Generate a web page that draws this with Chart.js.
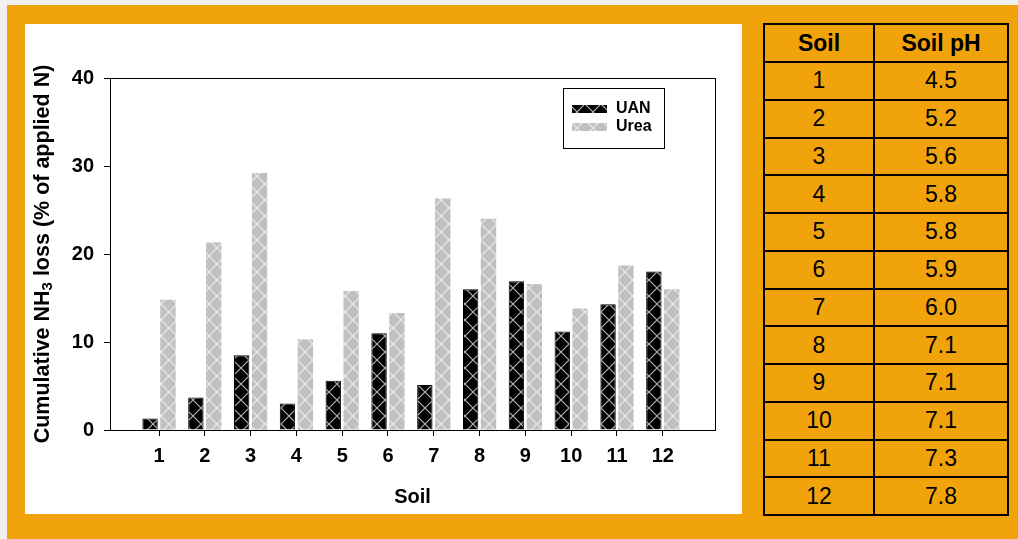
<!DOCTYPE html>
<html>
<head>
<meta charset="utf-8">
<script src="https://cdn.jsdelivr.net/npm/chart.js@4.4.1/dist/chart.umd.min.js"></script>
<style>
  html, body { margin:0; padding:0; }
  body { width:1018px; height:539px; background:#f0f0f0; position:relative; overflow:hidden; font-family:"Liberation Sans", Arial, sans-serif; }
  #frame { position:absolute; left:7px; top:5px; right:0; bottom:0; background:#f0a30b; }
  #panel { position:absolute; left:25px; top:24px; width:717px; height:490px; background:#fff; }
  #ph { position:absolute; left:763px; top:23px; width:246px; border-collapse:collapse; }
  #ph th, #ph td { border:2px solid #000; text-align:center; padding:0; color:#000; }
  #ph th { font-weight:bold; font-size:23px; height:36px; }
  #ph td { font-size:23px; height:35.75px; }
  #ph th:first-child { width:108px; }
</style>
</head>
<body>
<div id="frame"></div>
<div id="panel"><canvas id="c" width="717" height="490"></canvas></div>
<table id="ph"><thead><tr><th>Soil</th><th>Soil pH</th></tr></thead><tbody id="phBody"></tbody></table>
<script>
// data
const soils  = [1, 2, 3, 4, 5, 6, 7, 8, 9, 10, 11, 12];
const uan    = [1.3, 3.7, 8.5, 3.0, 5.6, 11.0, 5.1, 16.0, 16.9, 11.2, 14.3, 18.0];
const urea   = [14.8, 21.3, 29.2, 10.3, 15.8, 13.3, 26.3, 24.0, 16.6, 13.8, 18.7, 16.0];
const soilPH = [4.5, 5.2, 5.6, 5.8, 5.8, 5.9, 6.0, 7.1, 7.1, 7.1, 7.3, 7.8];
const yTicks = [0, 10, 20, 30, 40];

// table
const tb = document.getElementById('phBody');
soils.forEach((s, i) => {
  const tr = document.createElement('tr');
  tr.innerHTML = `<td>${s}</td><td>${soilPH[i].toFixed(1)}</td>`;
  tb.appendChild(tr);
});

// cross hatch fills
function hatch(bg, line) {
  const c = document.createElement('canvas');
  c.width = 16; c.height = 16;
  const g = c.getContext('2d');
  g.fillStyle = bg; g.fillRect(0, 0, 16, 16);
  g.strokeStyle = line; g.lineWidth = 1.2;
  g.beginPath();
  g.moveTo(0, 0); g.lineTo(16, 16);
  g.moveTo(16, 0); g.lineTo(0, 16);
  g.stroke();
  return g.createPattern(c, 'repeat');
}
const FONT = '"Liberation Sans", Arial, sans-serif';

const frameBox = {
  id: 'frameBox',
  afterDraw(chart) {
    const {ctx, chartArea: a} = chart;
    ctx.save();
    ctx.strokeStyle = '#000'; ctx.lineWidth = 1;
    ctx.strokeRect(a.left + 0.5, a.top + 0.5, a.right - a.left, a.bottom - a.top);
    ctx.restore();
  }
};

const yTitle = {
  id: 'yTitle',
  afterDraw(chart) {
    const {ctx, chartArea: a} = chart;
    const parts = [['Cumulative NH', 'bold 21.5px ' + FONT, 0], ['3', 'bold 15px ' + FONT, 5], [' loss (% of applied N)', 'bold 21.5px ' + FONT, 0]];
    ctx.save();
    let w = 0;
    parts.forEach(p => { ctx.font = p[1]; w += ctx.measureText(p[0]).width; });
    ctx.translate(18, (a.top + a.bottom) / 2);
    ctx.rotate(-Math.PI / 2);
    ctx.fillStyle = '#000';
    ctx.textBaseline = 'middle';
    let x = -w / 2;
    parts.forEach(p => { ctx.font = p[1]; ctx.fillText(p[0], x, p[2]); x += ctx.measureText(p[0]).width; });
    ctx.restore();
  }
};

const boxLegend = {
  id: 'boxLegend',
  afterDraw(chart) {
    const ctx = chart.ctx;
    ctx.save();
    ctx.strokeStyle = '#000'; ctx.lineWidth = 1;
    ctx.strokeRect(538.5, 64.5, 101, 60);
    ctx.font = 'bold 16px ' + FONT;
    ctx.textBaseline = 'middle';
    chart.data.datasets.forEach((ds, i) => {
      const y = 85 + i * 18;
      ctx.fillStyle = ds.backgroundColor;
      ctx.fillRect(547, y - 4, 35, 8);
      ctx.fillStyle = '#000';
      ctx.fillText(ds.label, 591, y);
    });
    ctx.restore();
  }
};

new Chart(document.getElementById('c'), {
  type: 'bar',
  data: {
    datasets: [
      { label: 'UAN', data: soils.map((s, i) => ({x: s, y: uan[i]})),
        backgroundColor: hatch('#000', '#b4b4b4'), borderColor: '#000', borderWidth: 1 },
      { label: 'Urea', data: soils.map((s, i) => ({x: s, y: urea[i]})),
        backgroundColor: hatch('#c0c0c0', '#ececec'), borderWidth: 0 }
    ]
  },
  options: {
    responsive: false,
    animation: false,
    layout: { padding: { top: 54, right: 27, left: 0, bottom: 0 } },
    categoryPercentage: 0.78,
    barPercentage: 0.86,
    plugins: { legend: { display: false }, tooltip: { enabled: false } },
    scales: {
      x: {
        type: 'linear', min: -0.07, max: 13.14, offset: false,
        afterBuildTicks: ax => { ax.ticks = soils.map(v => ({value: v})); },
        afterFit: ax => { ax.height = 84; },
        grid: { offset: false, drawOnChartArea: false, drawTicks: true, tickLength: 6, color: '#000' },
        border: { color: '#000', width: 1 },
        ticks: { color: '#000', font: { family: FONT, size: 20, weight: 'bold' }, padding: 8, maxRotation: 0, autoSkip: false },
        title: { display: true, text: 'Soil', color: '#000', font: { family: FONT, size: 20, weight: 'bold', lineHeight: 1.2 }, padding: { top: 0, bottom: 5 } }
      },
      y: {
        min: 0, max: 40,
        afterBuildTicks: ax => { ax.ticks = yTicks.map(v => ({value: v})); },
        afterFit: ax => { ax.width = 85; },
        grid: { drawOnChartArea: false, drawTicks: true, tickLength: 6, color: '#000' },
        border: { color: '#000', width: 1 },
        ticks: { color: '#000', font: { family: FONT, size: 20, weight: 'bold' }, padding: 10 }
      }
    }
  },
  plugins: [frameBox, yTitle, boxLegend]
});
</script>
</body>
</html>
